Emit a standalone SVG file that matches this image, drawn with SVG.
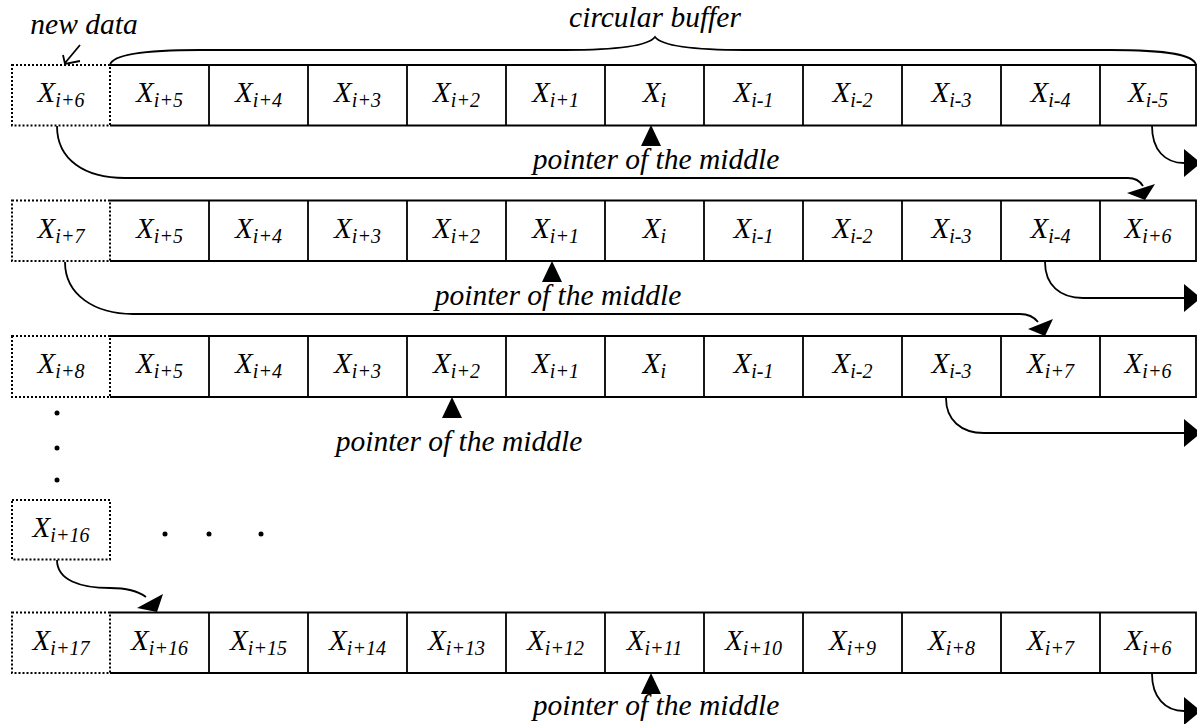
<svg xmlns="http://www.w3.org/2000/svg" width="1197" height="724" viewBox="0 0 1197 724">
  <style>
    .bg { fill: #ffffff; }
    .cell { fill: none; stroke: #000; stroke-width: 1.8; }
    .dot { fill: none; stroke: #000; stroke-width: 2; stroke-dasharray: 2 2; }
    .lbl { font-family: "Liberation Serif", "Times New Roman", serif; font-style: italic; font-size: 29px; fill: #000; text-anchor: middle; }
    .sub { font-size: 20px; }
    .note { font-family: "Liberation Serif", "Times New Roman", serif; font-style: italic; font-size: 29.5px; fill: #000; text-anchor: middle; }
    .wire { fill: none; stroke: #000; stroke-width: 1.8; }
    .head { fill: #000; stroke: none; }
  </style>
  <rect class="bg" x="0" y="0" width="1197" height="724"/>

  <!-- header annotations -->
  <g id="header">
    <text class="note" x="84" y="34">new data</text>
    <path class="wire" d="M 80 45 L 65 63 M 63 55 L 65 64 L 80 61"/>
    <text class="note" x="655" y="27">circular buffer</text>
    <path class="wire" d="M 110 65 C 112 55 140 50 200 50 L 565 50 C 620 50 648 46 655 37 C 662 46 690 50 745 50 L 1110 50 C 1170 50 1194 55 1196 65"/>
  </g>

  <!-- row 1 -->
  <g id="row1">
    <rect class="dot" x="12" y="65" width="98" height="60.5"/>
    <path class="cell" d="M 110 65 H 1196 V 125.5 H 110 M 209 65 V 125.5 M 308 65 V 125.5 M 407 65 V 125.5 M 506 65 V 125.5 M 605 65 V 125.5 M 704 65 V 125.5 M 803 65 V 125.5 M 902 65 V 125.5 M 1001 65 V 125.5 M 1100 65 V 125.5"/>
    <text class="lbl" x="61" y="102">X<tspan class="sub" dy="5">i+6</tspan></text>
    <text class="lbl" x="159.5" y="102">X<tspan class="sub" dy="5">i+5</tspan></text>
    <text class="lbl" x="258.5" y="102">X<tspan class="sub" dy="5">i+4</tspan></text>
    <text class="lbl" x="357.5" y="102">X<tspan class="sub" dy="5">i+3</tspan></text>
    <text class="lbl" x="456.5" y="102">X<tspan class="sub" dy="5">i+2</tspan></text>
    <text class="lbl" x="555.5" y="102">X<tspan class="sub" dy="5">i+1</tspan></text>
    <text class="lbl" x="654.5" y="102">X<tspan class="sub" dy="5">i</tspan></text>
    <text class="lbl" x="753.5" y="102">X<tspan class="sub" dy="5">i-1</tspan></text>
    <text class="lbl" x="852.5" y="102">X<tspan class="sub" dy="5">i-2</tspan></text>
    <text class="lbl" x="951.5" y="102">X<tspan class="sub" dy="5">i-3</tspan></text>
    <text class="lbl" x="1050.5" y="102">X<tspan class="sub" dy="5">i-4</tspan></text>
    <text class="lbl" x="1148" y="102">X<tspan class="sub" dy="5">i-5</tspan></text>
    <polygon class="head" points="651,125 661,146 641,146"/>
    <text class="note" x="656" y="169">pointer of the middle</text>
  </g>

  <!-- row 2 -->
  <g id="row2">
    <rect class="dot" x="12" y="200.5" width="98" height="60.5"/>
    <path class="cell" d="M 110 200.5 H 1196 V 261 H 110 M 209 200.5 V 261 M 308 200.5 V 261 M 407 200.5 V 261 M 506 200.5 V 261 M 605 200.5 V 261 M 704 200.5 V 261 M 803 200.5 V 261 M 902 200.5 V 261 M 1001 200.5 V 261 M 1100 200.5 V 261"/>
    <text class="lbl" x="61" y="238">X<tspan class="sub" dy="5">i+7</tspan></text>
    <text class="lbl" x="159.5" y="238">X<tspan class="sub" dy="5">i+5</tspan></text>
    <text class="lbl" x="258.5" y="238">X<tspan class="sub" dy="5">i+4</tspan></text>
    <text class="lbl" x="357.5" y="238">X<tspan class="sub" dy="5">i+3</tspan></text>
    <text class="lbl" x="456.5" y="238">X<tspan class="sub" dy="5">i+2</tspan></text>
    <text class="lbl" x="555.5" y="238">X<tspan class="sub" dy="5">i+1</tspan></text>
    <text class="lbl" x="654.5" y="238">X<tspan class="sub" dy="5">i</tspan></text>
    <text class="lbl" x="753.5" y="238">X<tspan class="sub" dy="5">i-1</tspan></text>
    <text class="lbl" x="852.5" y="238">X<tspan class="sub" dy="5">i-2</tspan></text>
    <text class="lbl" x="951.5" y="238">X<tspan class="sub" dy="5">i-3</tspan></text>
    <text class="lbl" x="1050.5" y="238">X<tspan class="sub" dy="5">i-4</tspan></text>
    <text class="lbl" x="1148" y="238">X<tspan class="sub" dy="5">i+6</tspan></text>
    <polygon class="head" points="552,261 562,282 542,282"/>
    <text class="note" x="558" y="305">pointer of the middle</text>
  </g>

  <!-- row 3 -->
  <g id="row3">
    <rect class="dot" x="12" y="336" width="98" height="61"/>
    <path class="cell" d="M 110 336 H 1196 V 397 H 110 M 209 336 V 397 M 308 336 V 397 M 407 336 V 397 M 506 336 V 397 M 605 336 V 397 M 704 336 V 397 M 803 336 V 397 M 902 336 V 397 M 1001 336 V 397 M 1100 336 V 397"/>
    <text class="lbl" x="61" y="373">X<tspan class="sub" dy="5">i+8</tspan></text>
    <text class="lbl" x="159.5" y="373">X<tspan class="sub" dy="5">i+5</tspan></text>
    <text class="lbl" x="258.5" y="373">X<tspan class="sub" dy="5">i+4</tspan></text>
    <text class="lbl" x="357.5" y="373">X<tspan class="sub" dy="5">i+3</tspan></text>
    <text class="lbl" x="456.5" y="373">X<tspan class="sub" dy="5">i+2</tspan></text>
    <text class="lbl" x="555.5" y="373">X<tspan class="sub" dy="5">i+1</tspan></text>
    <text class="lbl" x="654.5" y="373">X<tspan class="sub" dy="5">i</tspan></text>
    <text class="lbl" x="753.5" y="373">X<tspan class="sub" dy="5">i-1</tspan></text>
    <text class="lbl" x="852.5" y="373">X<tspan class="sub" dy="5">i-2</tspan></text>
    <text class="lbl" x="951.5" y="373">X<tspan class="sub" dy="5">i-3</tspan></text>
    <text class="lbl" x="1050.5" y="373">X<tspan class="sub" dy="5">i+7</tspan></text>
    <text class="lbl" x="1148" y="373">X<tspan class="sub" dy="5">i+6</tspan></text>
    <polygon class="head" points="452,397 462,418 442,418"/>
    <text class="note" x="459" y="451">pointer of the middle</text>
  </g>

  <!-- elision dots -->
  <g id="ellipsis">
    <circle cx="57" cy="413" r="2.5"/>
    <circle cx="57" cy="448" r="2.5"/>
    <circle cx="57" cy="480" r="2.5"/>
    <circle cx="165" cy="534" r="2.5"/>
    <circle cx="209" cy="534" r="2.5"/>
    <circle cx="261" cy="534" r="2.5"/>
  </g>

  <!-- row 4: lone new sample -->
  <g id="row4">
    <rect class="dot" x="12" y="500" width="98" height="59.5"/>
    <text class="lbl" x="61" y="537">X<tspan class="sub" dy="5">i+16</tspan></text>
  </g>

  <!-- row 5 -->
  <g id="row5">
    <rect class="dot" x="12" y="612.5" width="98" height="60.5"/>
    <path class="cell" d="M 110 612.5 H 1196 V 673 H 110 M 209 612.5 V 673 M 308 612.5 V 673 M 407 612.5 V 673 M 506 612.5 V 673 M 605 612.5 V 673 M 704 612.5 V 673 M 803 612.5 V 673 M 902 612.5 V 673 M 1001 612.5 V 673 M 1100 612.5 V 673"/>
    <text class="lbl" x="61" y="650">X<tspan class="sub" dy="5">i+17</tspan></text>
    <text class="lbl" x="159.5" y="650">X<tspan class="sub" dy="5">i+16</tspan></text>
    <text class="lbl" x="258.5" y="650">X<tspan class="sub" dy="5">i+15</tspan></text>
    <text class="lbl" x="357.5" y="650">X<tspan class="sub" dy="5">i+14</tspan></text>
    <text class="lbl" x="456.5" y="650">X<tspan class="sub" dy="5">i+13</tspan></text>
    <text class="lbl" x="555.5" y="650">X<tspan class="sub" dy="5">i+12</tspan></text>
    <text class="lbl" x="654.5" y="650">X<tspan class="sub" dy="5">i+11</tspan></text>
    <text class="lbl" x="753.5" y="650">X<tspan class="sub" dy="5">i+10</tspan></text>
    <text class="lbl" x="852.5" y="650">X<tspan class="sub" dy="5">i+9</tspan></text>
    <text class="lbl" x="951.5" y="650">X<tspan class="sub" dy="5">i+8</tspan></text>
    <text class="lbl" x="1050.5" y="650">X<tspan class="sub" dy="5">i+7</tspan></text>
    <text class="lbl" x="1148" y="650">X<tspan class="sub" dy="5">i+6</tspan></text>
    <polygon class="head" points="651,673 661,694 641,694"/>
    <text class="note" x="656" y="715">pointer of the middle</text>
  </g>

  <!-- connectors: new sample wraps into the oldest slot, oldest sample leaves -->
  <g id="connectors">
    <path class="wire" d="M 57 126 C 57 160 85 178 125 178 L 1128 178 C 1136 178 1140 181 1143 186"/>
    <polygon class="head" points="1127,193 1155,184 1145,200"/>
    <path class="wire" d="M 1152 126 C 1152 150 1165 163 1184 163"/>
    <polygon class="head" points="1184,149 1201,163 1184,177"/>

    <path class="wire" d="M 65 262 C 65 295 95 314 133 314 L 1020 314 C 1028 314 1034 317 1038 322"/>
    <polygon class="head" points="1028,329 1053,319 1045,336"/>
    <path class="wire" d="M 1045 262 C 1045 285 1060 298 1083 298 L 1184 298"/>
    <polygon class="head" points="1184,284 1201,298 1184,312"/>

    <path class="wire" d="M 946 398 C 946 420 961 433 984 433 L 1184 433"/>
    <polygon class="head" points="1184,419 1201,433 1184,447"/>

    <path class="wire" d="M 57 560 C 57 580 80 588 110 588 C 128 588 138 591 146 597"/>
    <polygon class="head" points="137,608 163,594 157,612"/>

    <path class="wire" d="M 1152 674 C 1152 697 1165 711 1184 711"/>
    <polygon class="head" points="1184,697 1201,711 1184,725"/>
  </g>
</svg>
